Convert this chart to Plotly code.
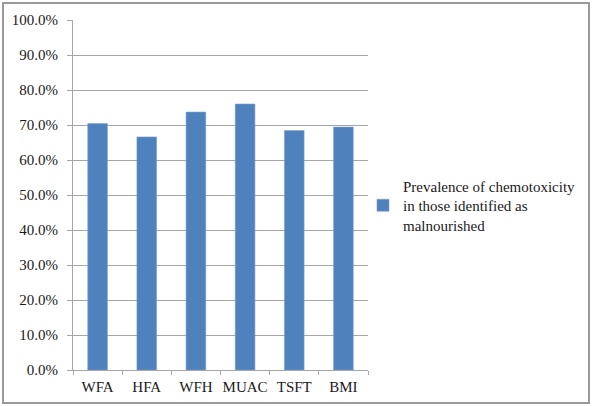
import plotly.graph_objects as go

categories = ["WFA", "HFA", "WFH", "MUAC", "TSFT", "BMI"]
prevalence = [0.704, 0.666, 0.737, 0.760, 0.684, 0.694]
series_name = "Prevalence of chemotoxicity<br>in those identified as<br>malnourished"
y_ticks = [i / 10 for i in range(11)]

FONT = "Liberation Serif"
GRID = "#a6a6a6"
TEXT = "#1a1a1a"

fig = go.Figure()
fig.add_trace(go.Bar(
    x=categories,
    y=prevalence,
    name=series_name,
    marker=dict(color="#4f81bd", line=dict(color="#7da0cf", width=0.6)),
    showlegend=True,
))

fig.update_layout(
    width=594,
    height=406,
    margin=dict(l=73, r=226, t=20, b=36),
    paper_bgcolor="white",
    plot_bgcolor="white",
    font=dict(family=FONT, size=15, color=TEXT),
    bargap=0.6,
    showlegend=True,
    legend=dict(
        x=0.983, xanchor="left",
        y=0.47, yanchor="middle",
        font=dict(family=FONT, size=15, color=TEXT),
        itemwidth=30,
        bgcolor="rgba(0,0,0,0)",
    ),
    xaxis=dict(
        type="category",
        showline=True, linecolor=GRID, linewidth=1,
        ticks="outside", ticklen=4, tickcolor=GRID,
        tickson="boundaries",
        tickangle=0,
        ticklabelstandoff=3,
        automargin=False,
        showgrid=False,
        tickfont=dict(family=FONT, size=15, color=TEXT),
    ),
    yaxis=dict(
        range=[0, 1.0],
        tickvals=y_ticks,
        tickformat=".1%",
        showgrid=True, gridcolor=GRID, gridwidth=1,
        showline=True, linecolor=GRID, linewidth=1,
        ticks="outside", ticklen=5, tickcolor=GRID,
        ticklabelstandoff=6,
        zeroline=False,
        automargin=False,
        tickfont=dict(family=FONT, size=15, color=TEXT),
    ),
    shapes=[dict(
        type="rect", xref="paper", yref="paper",
        x0=-70 / 295, x1=(589 - 73) / 295,
        y0=-33 / 350, y1=(370 - 3) / 350,
        line=dict(color="#9a9a9a", width=2),
        fillcolor="rgba(0,0,0,0)",
        layer="below",
    )],
)

fig.write_html("out.html")
